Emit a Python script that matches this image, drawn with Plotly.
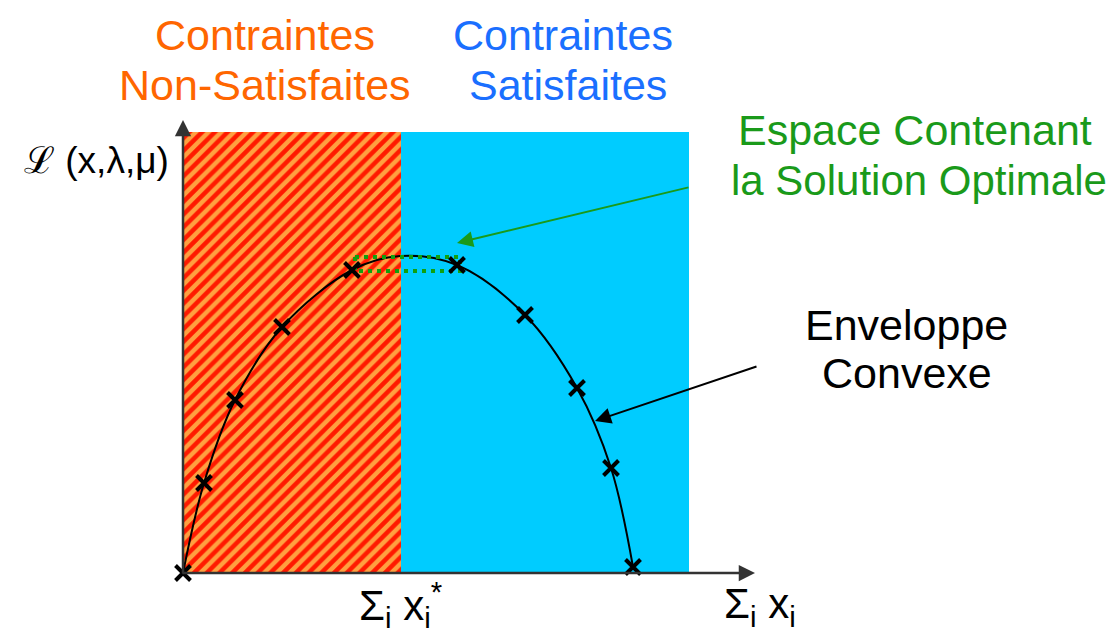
import plotly.graph_objects as go

# ================================
# Données (unités = pixels depuis l'origine des axes)
# ================================
pts_x = [0, 21, 52, 99, 169, 274, 342, 394, 428, 450]
pts_y = [0, 90, 173, 246, 303, 308, 258, 185, 105, 6]

courbe_x = [0, 21, 52, 99, 169, 217, 274, 342, 394, 428, 450]
courbe_y = [0, 90, 173, 246, 303, 317, 308, 258, 185, 105, 6]

x_star = 218      # frontière des contraintes
x_fin = 506       # fin de la zone satisfaite
y_haut = 441      # hauteur des zones

rect_x = [172, 277, 277, 172, 172]
rect_y = [316, 316, 302, 302, 316]

FONT = "Liberation Sans, Arial, sans-serif"

fig = go.Figure()

# zone non satisfaite (hachurée)
fig.add_trace(go.Bar(
    x=[x_star / 2], y=[y_haut], width=[x_star], base=[0],
    marker=dict(color="#FFA040", line_width=0,
                pattern=dict(shape="/", fgcolor="#FF1A00", bgcolor="#FFA040",
                             size=9, solidity=0.5, fillmode="replace")),
    hoverinfo="skip", showlegend=False))

# zone satisfaite
fig.add_trace(go.Bar(
    x=[(x_star + x_fin) / 2], y=[y_haut], width=[x_fin - x_star], base=[0],
    marker=dict(color="#00CCFF", line_width=0),
    hoverinfo="skip", showlegend=False))

# enveloppe convexe
fig.add_trace(go.Scatter(
    x=courbe_x, y=courbe_y, mode="lines",
    line=dict(color="black", width=2, shape="spline", smoothing=1.0),
    hoverinfo="skip", showlegend=False))

# rectangle pointillé vert
fig.add_trace(go.Scatter(
    x=rect_x, y=rect_y, mode="lines",
    line=dict(color="#10A010", width=4, dash="4px,5px"),
    hoverinfo="skip", showlegend=False))

# croix
fig.add_trace(go.Scatter(
    x=pts_x, y=pts_y, mode="markers",
    marker=dict(symbol="x-thin", size=15, line=dict(color="black", width=4)),
    hoverinfo="skip", showlegend=False))

# axes avec flèches
fig.add_annotation(x=0, y=453, ax=0, ay=-2, xref="x", yref="y", axref="x", ayref="y",
                   showarrow=True, arrowhead=2, arrowsize=1.3, arrowwidth=2.5,
                   arrowcolor="#333333", text="")
fig.add_annotation(x=572, y=0, ax=-2, ay=0, xref="x", yref="y", axref="x", ayref="y",
                   showarrow=True, arrowhead=2, arrowsize=1.3, arrowwidth=2.5,
                   arrowcolor="#333333", text="")

# flèches d'annotation
fig.add_annotation(x=274, y=330, ax=507, ay=386, xref="x", yref="y", axref="x", ayref="y",
                   showarrow=True, arrowhead=2, arrowsize=1.6, arrowwidth=2,
                   arrowcolor="#1A9A1A", text="")
fig.add_annotation(x=412, y=152, ax=575, ay=207, xref="x", yref="y", axref="x", ayref="y",
                   showarrow=True, arrowhead=2, arrowsize=1.6, arrowwidth=2,
                   arrowcolor="black", text="")

# textes
textes = [
    ("Contraintes", 82, 538, "#FF6600", 43),
    ("Non-Satisfaites", 82, 488, "#FF6600", 43),
    ("Contraintes", 380, 538, "#1A6FFF", 43),
    ("Satisfaites", 385, 488, "#1A6FFF", 43),
    ("Espace Contenant", 732, 443, "#1A9A1A", 43),
    ("la Solution Optimale", 736, 393, "#1A9A1A", 42),
    ("Enveloppe", 723, 248, "black", 43),
    ("Convexe", 724, 200, "black", 43),
    ("ℒ (x,λ,μ)", -87, 413, "black", 37),
    ("Σ<sub>i</sub> x<sub>i</sub><sup>*</sup>", 217, -31, "black", 42),
    ("Σ<sub>i</sub> x<sub>i</sub>", 577, -33, "black", 42),
]
for t, x, y, c, s in textes:
    fig.add_annotation(x=x, y=y, xref="x", yref="y", text=t, showarrow=False,
                       font=dict(family=FONT, size=s, color=c),
                       xanchor="center", yanchor="middle")

# la page ajoute une marge de 8 px : on décale les plages en conséquence
fig.update_layout(
    width=1116, height=633,
    margin=dict(l=0, r=0, t=0, b=0),
    paper_bgcolor="white", plot_bgcolor="white",
    barmode="overlay", bargap=0,
    xaxis=dict(range=[-175, 941], visible=False, fixedrange=True),
    yaxis=dict(range=[-68, 565], visible=False, fixedrange=True),
)

fig.write_html("out.html")
